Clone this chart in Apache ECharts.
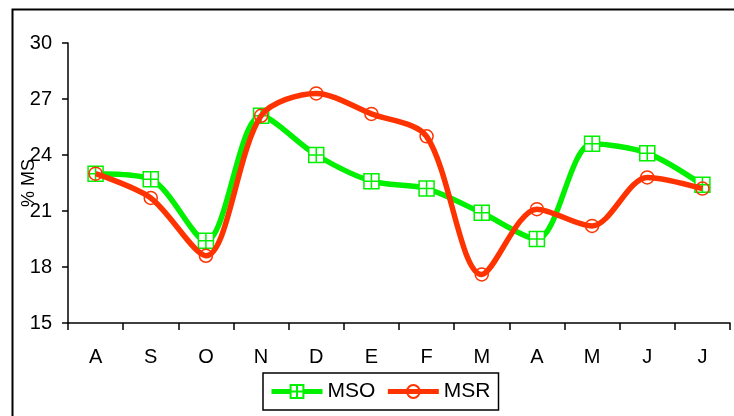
<!DOCTYPE html>
<html><head><meta charset="utf-8">
<script src="https://cdn.jsdelivr.net/npm/echarts@6/dist/echarts.min.js"></script>
<style>html,body{margin:0;padding:0;background:#fff}#c{width:734px;height:416px}</style>
</head><body><div id="c"></div>
<script>
const categories = ['A','S','O','N','D','E','F','M','A','M','J','J'];
const msoValues = [23.0, 22.7, 19.4, 26.1, 24.0, 22.6, 22.2, 20.9, 19.5, 24.6, 24.1, 22.4];
const msrValues = [23.0, 21.7, 18.6, 26.1, 27.3, 26.2, 25.0, 17.6, 21.1, 20.2, 22.8, 22.2];
const yTicks = {min: 15, max: 30, interval: 3};

const FONT = 'Liberation Sans, Arial, sans-serif';
const GREEN = '#00f000', RED = '#ff3300';
const squarePlus = 'path://M0,0H10V10H0Z M5,0V10 M0,5H10';
const chart = echarts.init(document.getElementById('c'));
chart.setOption({
  animation: false,
  backgroundColor: '#fff',
  graphic: [{
    type: 'rect', left: 10, top: 7, z: -1,
    shape: {x: 0, y: 0, width: 740, height: 420},
    style: {fill: 'none', stroke: '#000', lineWidth: 2}
  }],
  grid: {left: 68, right: 4, top: 43, bottom: 93, containLabel: false, outerBoundsMode: 'none'},
  legend: {
    left: 263, top: 373,
    padding: [8, 8, 8, 6],
    itemGap: 10, itemWidth: 51, itemHeight: 16,
    borderColor: '#000', borderWidth: 1.5,
    textStyle: {fontFamily: FONT, fontSize: 21, color: '#000'},
    data: [
      {name: 'MSO', lineStyle: {width: 5}},
      {name: 'MSR', lineStyle: {width: 5}}
    ]
  },
  xAxis: {
    type: 'category', data: categories, boundaryGap: true,
    axisLine: {lineStyle: {color: '#000', width: 1.5}},
    axisTick: {show: true, length: 7, lineStyle: {color: '#000', width: 1.5}},
    axisLabel: {color: '#000', fontFamily: FONT, fontSize: 20, margin: 24}
  },
  yAxis: {
    type: 'value', min: yTicks.min, max: yTicks.max, interval: yTicks.interval,
    name: '% MS', nameLocation: 'middle', nameRotate: 90, nameGap: 30, nameMoveOverlap: false,
    nameTextStyle: {color: '#000', fontFamily: FONT, fontSize: 18},
    splitLine: {show: false},
    axisLine: {show: true, lineStyle: {color: '#000', width: 1.5}},
    axisTick: {show: true, length: 6, lineStyle: {color: '#000', width: 1.5}},
    axisLabel: {color: '#000', fontFamily: FONT, fontSize: 20, margin: 16}
  },
  series: [{
    name: 'MSO', type: 'line', data: msoValues, smooth: 0.3,
    symbol: squarePlus, symbolSize: 15, showSymbol: true,
    lineStyle: {color: GREEN, width: 5.5},
    itemStyle: {color: '#fff', borderColor: GREEN, borderWidth: 1.5},
    z: 2
  }, {
    name: 'MSR', type: 'line', data: msrValues, smooth: 0.3,
    symbol: 'circle', symbolSize: 13, showSymbol: true,
    lineStyle: {color: RED, width: 5.5},
    itemStyle: {color: 'rgba(255,255,255,0)', borderColor: RED, borderWidth: 1.5},
    z: 3
  }]
});
</script></body></html>
